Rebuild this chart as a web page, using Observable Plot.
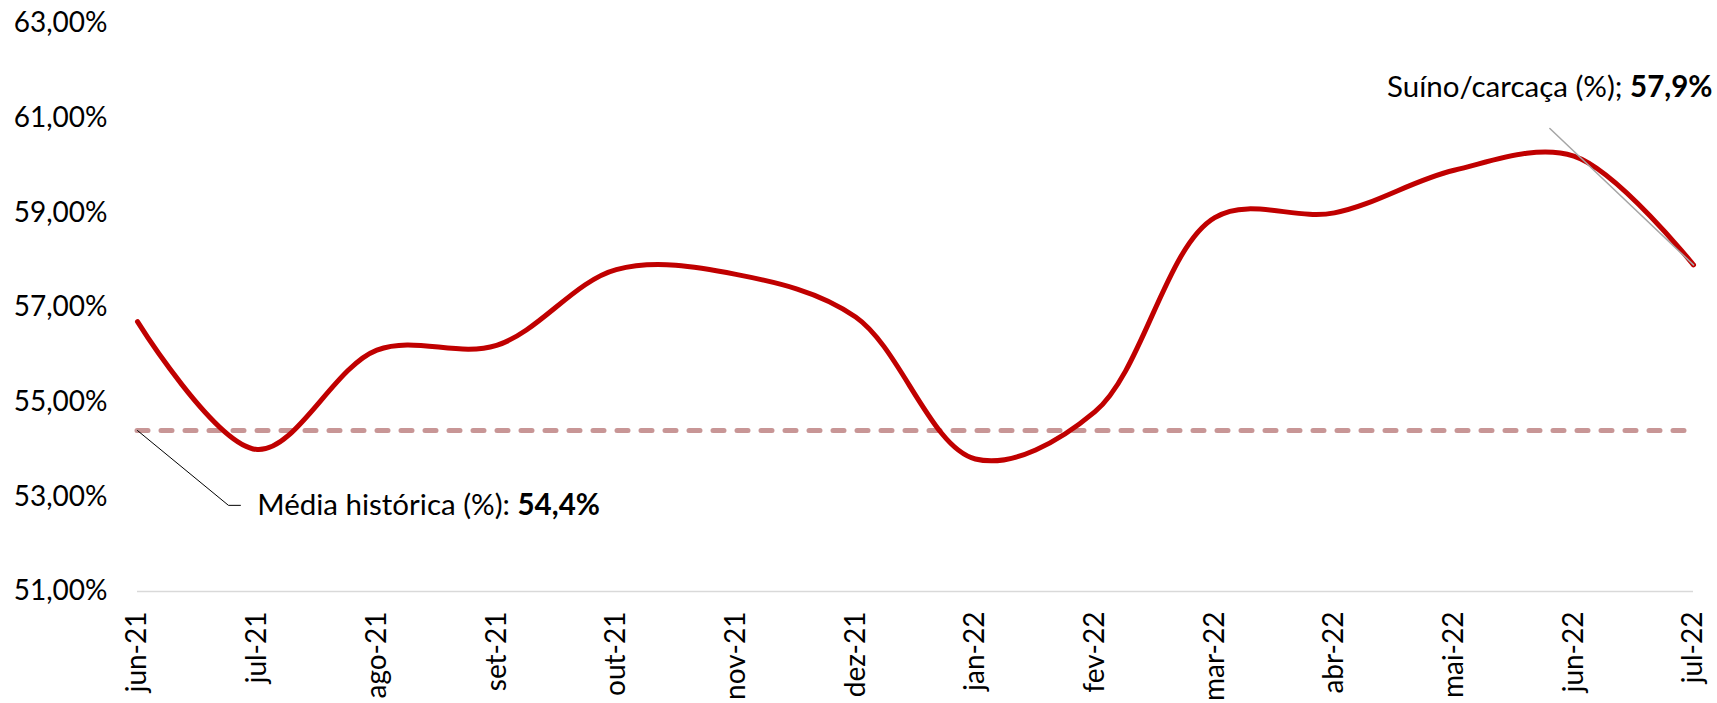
<!DOCTYPE html>
<html>
<head>
<meta charset="utf-8">
<script src="https://cdn.jsdelivr.net/npm/d3@7"></script>
<script src="https://cdn.jsdelivr.net/npm/@observablehq/plot@0.6"></script>
<style>
  html, body { margin: 0; padding: 0; background: #fff; }
  #chart { width: 1717px; height: 703px; }
  svg { overflow: visible; }
</style>
</head>
<body>
<div id="chart"></div>
<script>
// ---- data ----
const months = ["jun-21","jul-21","ago-21","set-21","out-21","nov-21","dez-21","jan-22","fev-22","mar-22","abr-22","mai-22","jun-22","jul-22"];
const suinoCarcaca = [56.7, 54.0, 56.1, 56.2, 57.8, 57.7, 56.8, 53.8, 54.8, 58.9, 59.0, 59.9, 60.2, 57.9];
const mediaHistorica = 54.4;
const yTicks = [51, 53, 55, 57, 59, 61, 63];

// annotation anchors (data units: month index, percent)
const mediaLabel = {text: "Média histórica (%): ", value: "54,4%", x: 1.0, y: 52.82};
const mediaLeader = [{x: 0, y: mediaHistorica}, {x: 0.76, y: 52.82}, {x: 0.86, y: 52.82}];
const suinoLabel = {text: "Suíno/carcaça (%); ", value: "57,9%", x: 10.44, y: 61.65};
const suinoLeader = [{x: 11.8, y: 60.78}, {x: 13, y: 57.9}];

const data = months.map((m, i) => ({i, m, v: suinoCarcaca[i]}));
const fmtY = d => d.toFixed(2).replace(".", ",") + "%";

const chart = Plot.plot({
  width: 1717,
  height: 703,
  marginLeft: 137,
  marginRight: 24,
  marginTop: 23,
  marginBottom: 112,
  style: {fontFamily: "Lato, 'Noto Sans', sans-serif", fontSize: "28px", color: "#000", background: "#fff"},
  x: {domain: [0, months.length - 1], ticks: d3.range(months.length), tickFormat: i => months[i],
      tickRotate: -90, tickSize: 0, tickPadding: 20, label: null},
  y: {domain: [51, 63], ticks: yTicks, tickFormat: fmtY, tickSize: 0, tickPadding: 30, label: null},
  marks: [
    Plot.ruleY([51], {stroke: "#d9d9d9", strokeWidth: 1.5}),
    Plot.ruleY([mediaHistorica], {stroke: "#c89696", strokeWidth: 5, strokeDasharray: "11,13", strokeLinecap: "round"}),
    Plot.line(data, {x: "i", y: "v", curve: "catmull-rom", stroke: "#c00000", strokeWidth: 5}),
    Plot.line(mediaLeader, {x: "x", y: "y", stroke: "#000", strokeWidth: 1}),
    Plot.line(suinoLeader, {x: "x", y: "y", stroke: "#a6a6a6", strokeWidth: 1.5}),
    Plot.text([mediaLabel], {x: "x", y: "y", text: "text", textAnchor: "start", fontSize: 29.5, fill: "#000"}),
    Plot.text([suinoLabel], {x: "x", y: "y", text: "text", textAnchor: "start", fontSize: 29.5, fill: "#000"})
  ]
});
document.getElementById("chart").appendChild(chart);

// append bold value to annotation labels
d3.select(chart).selectAll("text").each(function() {
  const t = d3.select(this);
  const s = t.text();
  for (const lab of [mediaLabel, suinoLabel]) {
    if (s === lab.text) {
      t.attr("xml:space", "preserve").style("white-space", "pre");
      t.append("tspan").attr("font-weight", "bold").text(lab.value);
    }
  }
});
</script>
</body>
</html>
